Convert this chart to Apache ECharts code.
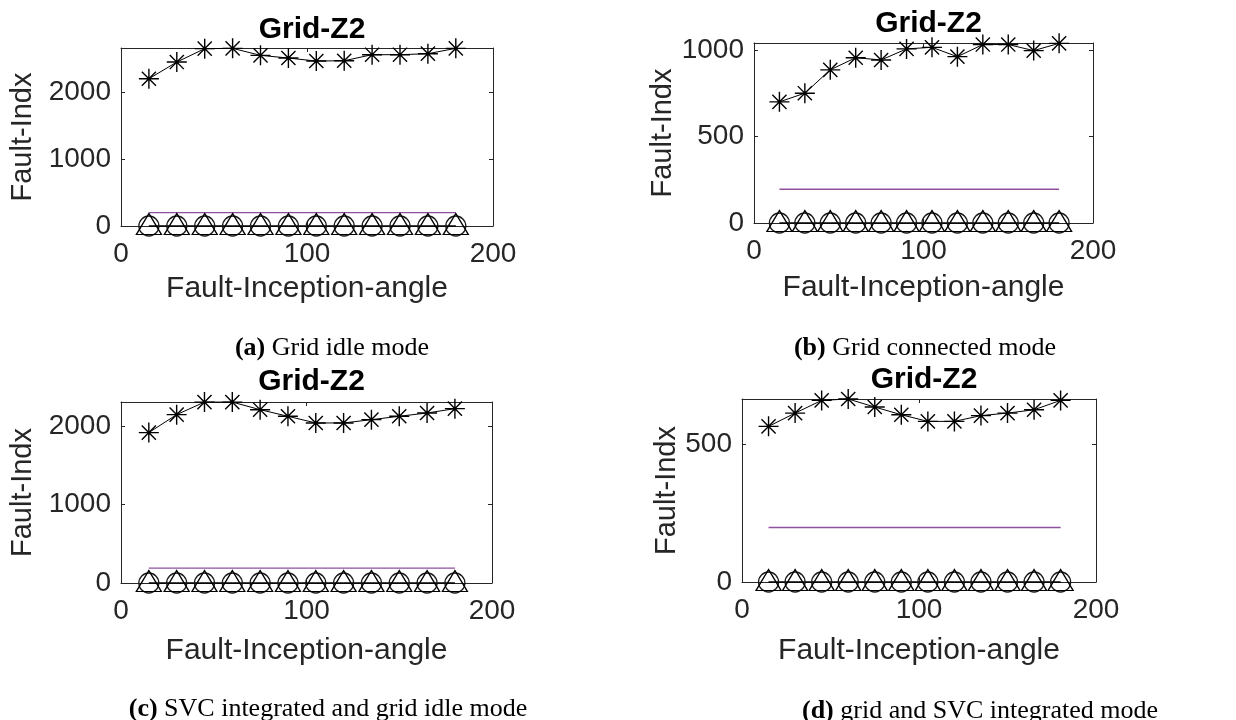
<!DOCTYPE html>
<html><head><meta charset="utf-8">
<script src="https://cdn.jsdelivr.net/npm/echarts@6/dist/echarts.min.js"></script>
<style>html,body{margin:0;padding:0;background:#fff}#c{width:1236px;height:720px}</style>
</head><body><div id="c"></div>
<script>
// ---- data ----
const angles = [15, 30, 45, 60, 75, 90, 105, 120, 135, 150, 165, 180];
const xTicks = [0, 100, 200];
const starA = [2200, 2450, 2650, 2655, 2550, 2510, 2465, 2470, 2560, 2560, 2575, 2655];
const starB = [700, 750, 885, 955, 942, 1006, 1015, 961, 1031, 1031, 996, 1038];
const starC = [1915, 2144, 2304, 2304, 2207, 2123, 2038, 2038, 2080, 2123, 2165, 2220];
const starD = [563, 611, 657, 662, 633, 605, 581, 581, 602, 611, 623, 657];
const thresholdA = [200, 200, 200, 200, 200, 200, 200, 200, 200, 200, 200, 200];
const thresholdB = [195, 195, 195, 195, 195, 195, 195, 195, 195, 195, 195, 195];
const thresholdC = [190, 190, 190, 190, 190, 190, 190, 190, 190, 190, 190, 190];
const thresholdD = [197, 197, 197, 197, 197, 197, 197, 197, 197, 197, 197, 197];
const circleVals = [0, 0, 0, 0, 0, 0, 0, 0, 0, 0, 0, 0];
const triangleVals = [0, 0, 0, 0, 0, 0, 0, 0, 0, 0, 0, 0];
const yTicksA = [0, 1000, 2000];
const yTicksB = [0, 500, 1000];
const yTicksC = [0, 1000, 2000];
const yTicksD = [0, 500];
const yMaxA = 2660, yMaxB = 1040, yMaxC = 2305, yMaxD = 662;
const titles = ['Grid-Z2', 'Grid-Z2', 'Grid-Z2', 'Grid-Z2'];
const capLabels = ['(a)', '(b)', '(c)', '(d)'];
const capTexts = [' Grid idle mode', ' Grid connected mode', ' SVC integrated and grid idle mode', ' grid and SVC integrated mode'];
const xName = 'Fault-Inception-angle';
const yName = 'Fault-Indx';

// ---- layout ----
const panels = [
  {stars: starA, thr: thresholdA, yMax: yMaxA, yInt: yTicksA[1] - yTicksA[0], left: 121, top: 48, width: 372, height: 178, gapY: 84, gapX: 48, titleTop: 10, capTop: 330, capX: 327},
  {stars: starB, thr: thresholdB, yMax: yMaxB, yInt: yTicksB[1] - yTicksB[0], left: 754, top: 43, width: 339, height: 180, gapY: 73, gapX: 50, titleTop: 4, capTop: 330, capX: 920},
  {stars: starC, thr: thresholdC, yMax: yMaxC, yInt: yTicksC[1] - yTicksC[0], left: 121, top: 402, width: 371, height: 181, gapY: 84, gapX: 53, titleTop: 362, capTop: 691, capX: 323},
  {stars: starD, thr: thresholdD, yMax: yMaxD, yInt: yTicksD[1] - yTicksD[0], left: 742, top: 399, width: 354, height: 183, gapY: 61, gapX: 54, titleTop: 360, capTop: 693, capX: 975}
];

const axisCol = '#262626';
const sans = 'Liberation Sans';
const serif = 'Liberation Serif';
const starPath = 'path://M0,-10L0,10M-10,0L10,0M-7.07,-7.07L7.07,7.07M-7.07,7.07L7.07,-7.07';

const grid = [], xAxis = [], yAxis = [], series = [], title = [];
panels.forEach((p, i) => {
  grid.push({left: p.left, top: p.top, width: p.width, height: p.height, containLabel: false});
  const tickStyle = {show: true, inside: true, length: 4, lineStyle: {color: axisCol, width: 1}};
  const lineStyle = {show: true, onZero: false, lineStyle: {color: axisCol, width: 1}};
  xAxis.push({
    type: 'value', gridIndex: i, position: 'bottom', min: xTicks[0], max: xTicks[xTicks.length - 1],
    interval: xTicks[1] - xTicks[0], axisLine: lineStyle, axisTick: tickStyle, splitLine: {show: false},
    axisLabel: {color: axisCol, fontFamily: sans, fontSize: 28, margin: 14},
    name: xName, nameLocation: 'middle', nameGap: p.gapX,
    nameTextStyle: {color: axisCol, fontFamily: sans, fontSize: 30}
  });
  xAxis.push({
    type: 'value', gridIndex: i, position: 'top', min: xTicks[0], max: xTicks[xTicks.length - 1],
    interval: xTicks[1] - xTicks[0], axisLine: lineStyle, axisTick: tickStyle, splitLine: {show: false},
    axisLabel: {show: false}
  });
  yAxis.push({
    type: 'value', gridIndex: i, position: 'left', min: 0, max: p.yMax, interval: p.yInt,
    axisLine: lineStyle, axisTick: tickStyle, splitLine: {show: false},
    axisLabel: {color: axisCol, fontFamily: sans, fontSize: 28, margin: 10,
      formatter: v => (v % p.yInt === 0 ? String(v) : '')},
    name: yName, nameLocation: 'middle', nameGap: p.gapY,
    nameTextStyle: {color: axisCol, fontFamily: sans, fontSize: 29}
  });
  yAxis.push({
    type: 'value', gridIndex: i, position: 'right', min: 0, max: p.yMax, interval: p.yInt,
    axisLine: lineStyle, axisTick: tickStyle, splitLine: {show: false}, axisLabel: {show: false}
  });
  const xi = 2 * i, yi = 2 * i;
  series.push({
    type: 'line', xAxisIndex: xi, yAxisIndex: yi, data: angles.map((a, j) => [a, p.thr[j]]),
    symbol: 'none', lineStyle: {color: '#9050A0', width: 1.4}, animation: false, z: 2
  });
  series.push({
    type: 'line', xAxisIndex: xi, yAxisIndex: yi, data: angles.map((a, j) => [a, circleVals[j]]),
    symbol: 'circle', symbolSize: 20, clip: false,
    itemStyle: {color: 'none', borderColor: '#1a1a1a', borderWidth: 1.3},
    lineStyle: {color: '#000', width: 1}, animation: false, z: 3
  });
  series.push({
    type: 'line', xAxisIndex: xi, yAxisIndex: yi, data: angles.map((a, j) => [a, triangleVals[j]]),
    symbol: 'triangle', symbolSize: [25, 21], symbolOffset: [0, -2], clip: false,
    itemStyle: {color: 'none', borderColor: '#000', borderWidth: 1.3},
    lineStyle: {color: '#000', width: 1}, animation: false, z: 3
  });
  series.push({
    type: 'line', xAxisIndex: xi, yAxisIndex: yi, data: angles.map((a, j) => [a, p.stars[j]]),
    symbol: starPath, symbolSize: 20, clip: false,
    itemStyle: {color: 'none', borderColor: '#000', borderWidth: 1.4},
    lineStyle: {color: '#000', width: 1}, animation: false, z: 4
  });
  title.push({
    text: titles[i], left: p.left + p.width / 2, top: p.titleTop, textAlign: 'center',
    textStyle: {fontFamily: sans, fontSize: 30, fontWeight: 'bold', color: '#000'}
  });
  title.push({
    text: '{b|' + capLabels[i] + '}{n|' + capTexts[i] + '}', left: p.capX, top: p.capTop, textAlign: 'center',
    textStyle: {fontWeight: 'normal', rich: {
      b: {fontFamily: serif, fontSize: 26, fontWeight: 'bold', color: '#000'},
      n: {fontFamily: serif, fontSize: 26, fontWeight: 'normal', color: '#000'}
    }}
  });
});

const chart = echarts.init(document.getElementById('c'), null, {renderer: 'canvas'});
chart.setOption({animation: false, backgroundColor: '#fff', title, grid, xAxis, yAxis, series});
</script></body></html>
